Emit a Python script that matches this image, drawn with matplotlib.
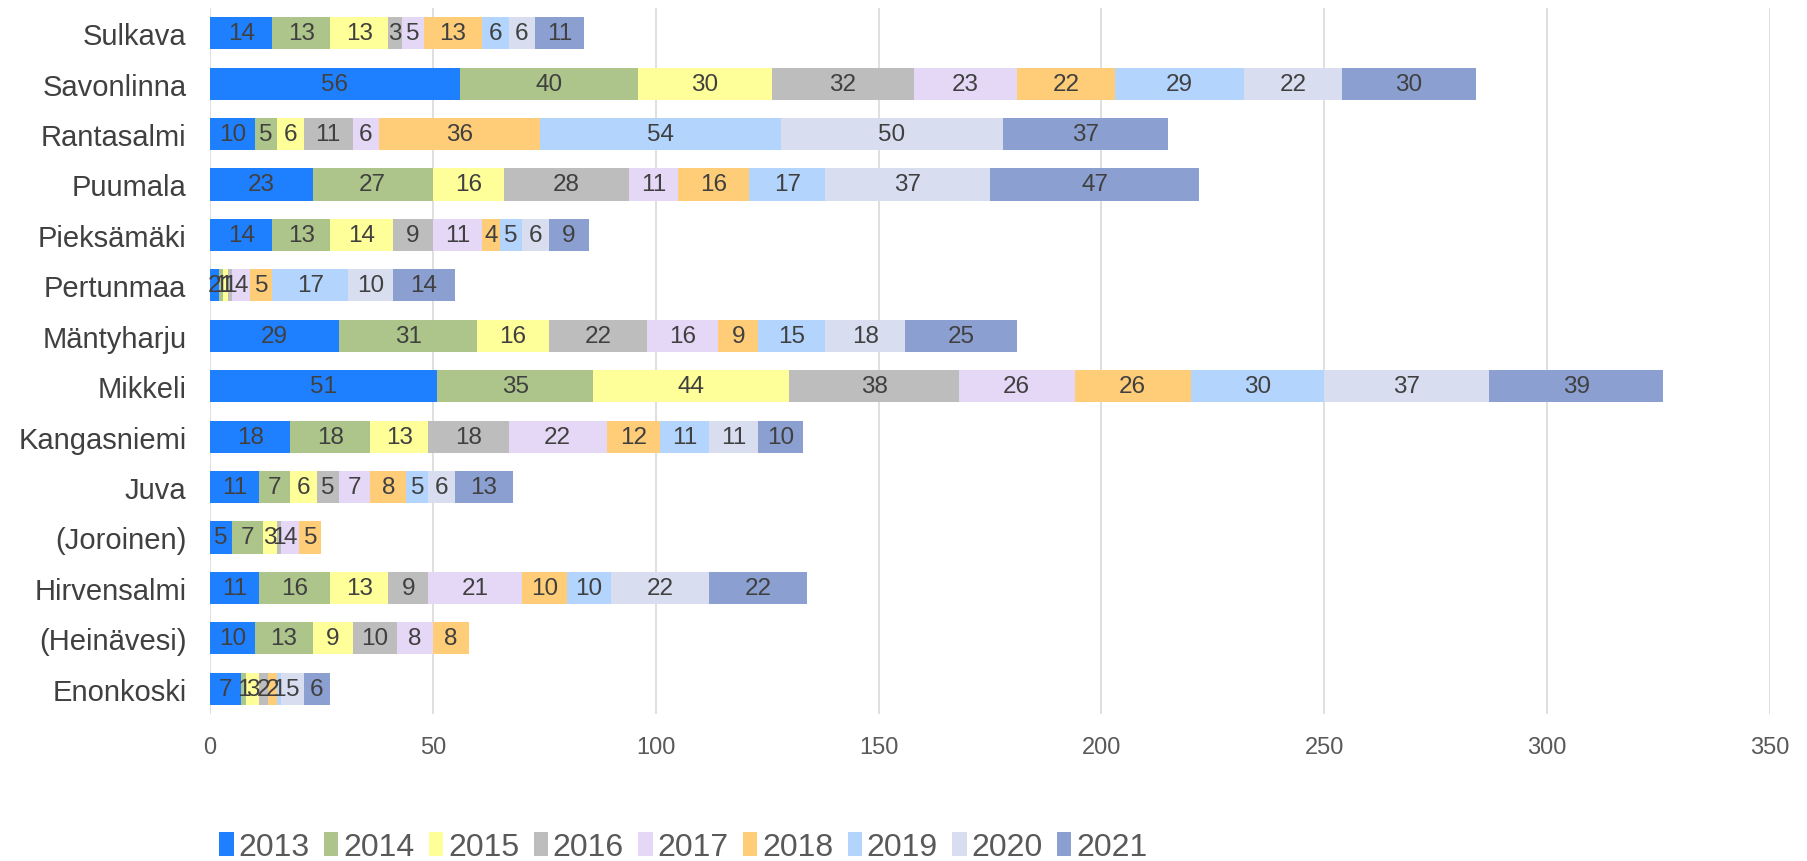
import matplotlib
matplotlib.use("Agg")
import matplotlib.pyplot as plt
import numpy as np

plt.rcParams['font.family'] = ['Liberation Sans', 'DejaVu Sans']

categories = ["Sulkava", "Savonlinna", "Rantasalmi", "Puumala", "Pieksämäki",
              "Pertunmaa", "Mäntyharju", "Mikkeli", "Kangasniemi", "Juva",
              "(Joroinen)", "Hirvensalmi", "(Heinävesi)", "Enonkoski"]
years = ["2013", "2014", "2015", "2016", "2017", "2018", "2019", "2020", "2021"]

v2013 = [14, 56, 10, 23, 14, 2, 29, 51, 18, 11, 5, 11, 10, 7]
v2014 = [13, 40, 5, 27, 13, 1, 31, 35, 18, 7, 7, 16, 13, 1]
v2015 = [13, 30, 6, 16, 14, 1, 16, 44, 13, 6, 3, 13, 9, 3]
v2016 = [3, 32, 11, 28, 9, 1, 22, 38, 18, 5, 1, 9, 10, 2]
v2017 = [5, 23, 6, 11, 11, 4, 16, 26, 22, 7, 4, 21, 8, 0]
v2018 = [13, 22, 36, 16, 4, 5, 9, 26, 12, 8, 5, 10, 8, 2]
v2019 = [6, 29, 54, 17, 5, 17, 15, 30, 11, 5, 0, 10, 0, 1]
v2020 = [6, 22, 50, 37, 6, 10, 18, 37, 11, 6, 0, 22, 0, 5]
v2021 = [11, 30, 37, 47, 9, 14, 25, 39, 10, 13, 0, 22, 0, 6]

series = [v2013, v2014, v2015, v2016, v2017, v2018, v2019, v2020, v2021]
colors = ["#1F80FF", "#ADC58A", "#FFFF99", "#BDBDBD", "#E5D8F6",
          "#FFCC78", "#B3D4FD", "#D8DDF0", "#8BA0D1"]

fig = plt.figure(figsize=(18.08, 8.62), dpi=100)
ax = fig.add_axes([210/1808, 1 - 715/862, (1770-210)/1808, (715-9)/862])

n = len(categories)
y = np.arange(n)[::-1]
left = np.zeros(n)
for vals, col, yr in zip(series, colors, years):
    vals = np.array(vals, dtype=float)
    bars = ax.barh(y, vals, left=left, height=0.64, color=col, label=yr, zorder=3)
    for b, v in zip(bars, vals):
        if v > 0:
            ax.text(b.get_x() + b.get_width()/2, b.get_y() + b.get_height()/2,
                    f"{int(v)}", ha="center", va="center", fontsize=17.5,
                    color="#404040", zorder=4)
    left += vals

ax.set_xlim(0, 350)
ax.set_ylim(-0.5, n - 0.5)
ax.set_xticks(np.arange(0, 351, 50))
ax.set_yticks(y)
ax.set_yticklabels(categories, fontsize=21, color="#404040", va="center_baseline")
ax.tick_params(axis="x", labelsize=17, labelcolor="#595959", length=0, pad=16)
ax.tick_params(axis="y", length=0, pad=17)
ax.grid(axis="x", color="#D9D9D9", linewidth=1.2, zorder=0)
for s in ax.spines.values():
    s.set_visible(False)

handles, labels = ax.get_legend_handles_labels()
fig.legend(handles, labels, loc="center", bbox_to_anchor=(0.378, 1 - 848/862),
           ncol=9, frameon=False, fontsize=23, handlelength=0.45, handleheight=0.8,
           handletextpad=0.15, columnspacing=0.45, labelcolor="#595959")

fig.savefig("out.png", dpi=100)
